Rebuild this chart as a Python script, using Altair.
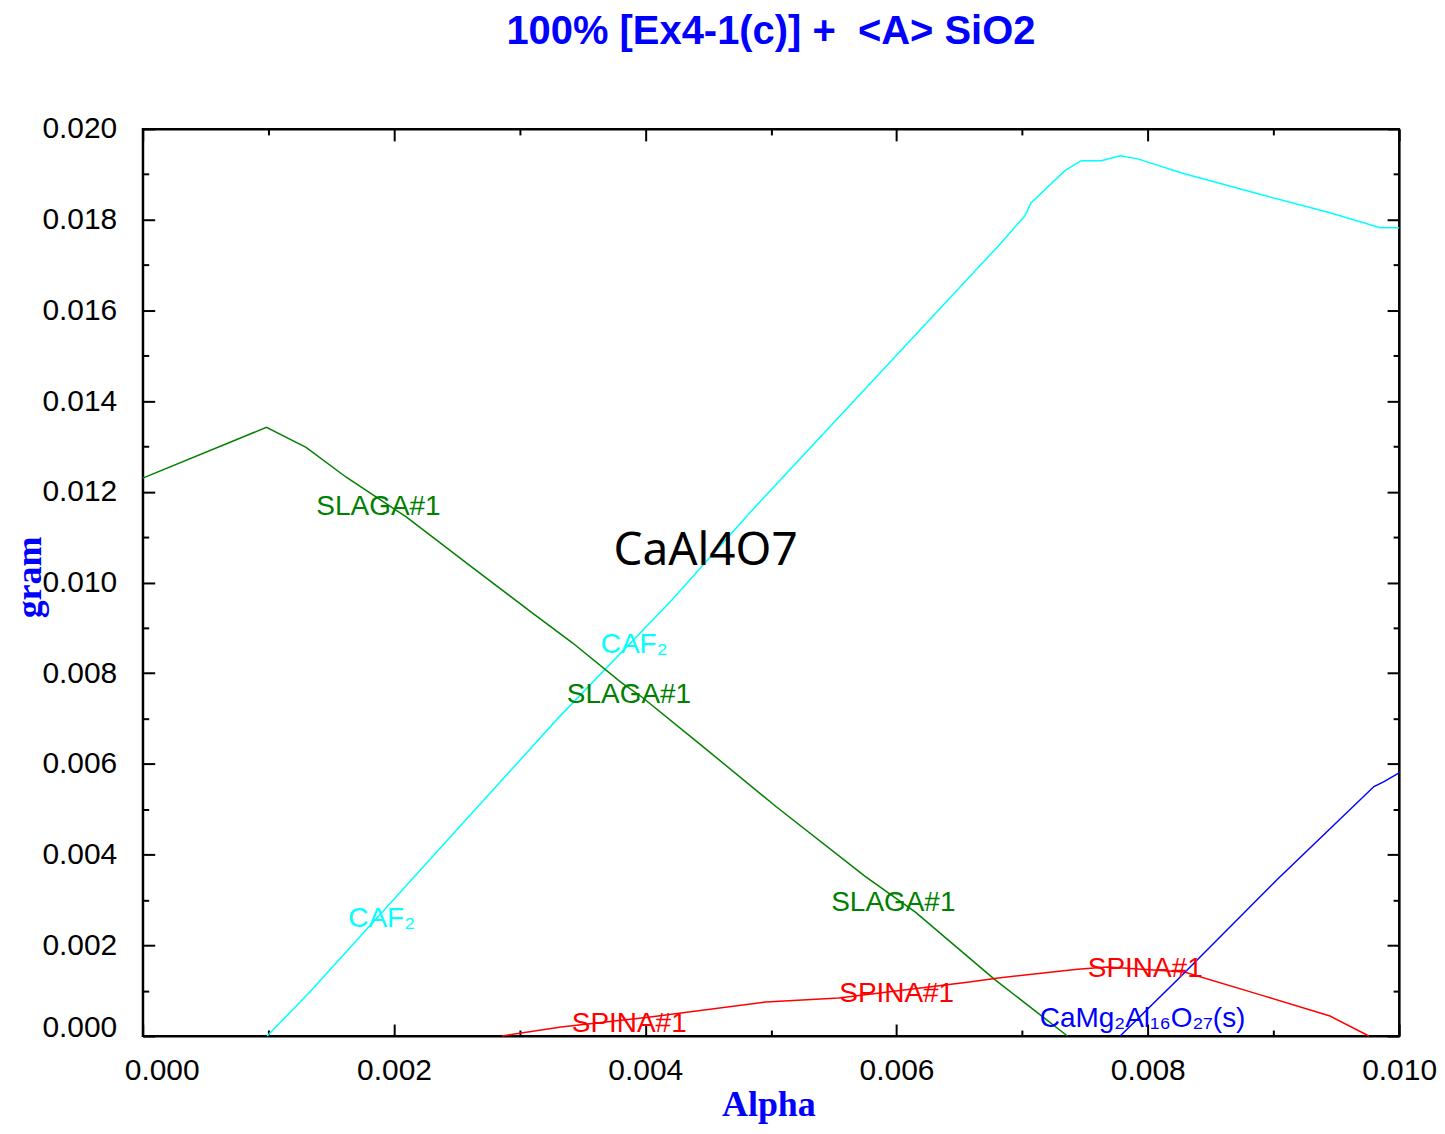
import altair as alt
import pandas as pd

# ---- data ----
caf2_x = [0.00099, 0.00133, 0.00331, 0.00421, 0.00485, 0.00681, 0.00702, 0.00707, 0.00734,
          0.00747, 0.00763, 0.00778, 0.00792, 0.00829, 0.00893, 0.00945, 0.00985, 0.01]
caf2_y = [0.0, 0.00097, 0.00702, 0.00961, 0.01159, 0.01742, 0.01808, 0.01837, 0.01908,
          0.0193, 0.0193, 0.01941, 0.01934, 0.01901, 0.01853, 0.01815, 0.01782, 0.01782]

slag_x = [0.0, 0.000985, 0.0013, 0.00162, 0.0021, 0.00262, 0.0031, 0.00342, 0.00381,
          0.00397, 0.00442, 0.00504, 0.00575, 0.00615, 0.00678, 0.00736]
slag_y = [0.0123, 0.01342, 0.01298, 0.01232, 0.01144, 0.01034, 0.00933, 0.00867, 0.00779,
          0.00748, 0.00647, 0.00506, 0.00352, 0.00273, 0.00125, 0.0]

spin_x = [0.00286, 0.00333, 0.00404, 0.00496, 0.00554, 0.00658, 0.00681, 0.00744, 0.00768,
          0.00829, 0.00893, 0.00945, 0.00976]
spin_y = [0.0, 0.0002, 0.00042, 0.00075, 0.00084, 0.00119, 0.00128, 0.00147, 0.00152,
          0.00141, 0.00088, 0.00044, 0.0]

camg_x = [0.00778, 0.00824, 0.00903, 0.0098, 0.00988, 0.01]
camg_y = [0.0, 0.00125, 0.00345, 0.0055, 0.00561, 0.0058]

series_names = ["CAF2", "SLAGA#1", "SPINA#1", "CaMg2Al16O27(s)"]
series_colors = ["#00FFFF", "#008000", "#FF0000", "#0000FF"]

lab_text = ["SLAGA#1", "SLAGA#1", "SLAGA#1", "CAF\u2082", "CAF\u2082",
            "SPINA#1", "SPINA#1", "SPINA#1", "CaMg\u2082Al\u2081\u2086O\u2082\u2087(s)"]
lab_series = ["SLAGA#1", "SLAGA#1", "SLAGA#1", "CAF2", "CAF2",
              "SPINA#1", "SPINA#1", "SPINA#1", "CaMg2Al16O27(s)"]
lab_x = [0.001382, 0.003376, 0.00548, 0.003646, 0.001636, 0.003415, 0.005544, 0.007522, 0.00714]
lab_y = [0.011485, 0.00735, 0.00275, 0.00845, 0.0024, 0.000088, 0.000748, 0.0013, 0.0002]

note_text = ["CaAl4O7"]
note_x = [0.00448]
note_y = [0.010385]

title_text = "100% [Ex4-1(c)] + \u00a0<A> SiO2"
x_title = "Alpha"
y_title = "gram"

x_major = [0.0, 0.002, 0.004, 0.006, 0.008, 0.010]
x_minor = [0.001, 0.003, 0.005, 0.007, 0.009]
y_major = [0.0, 0.002, 0.004, 0.006, 0.008, 0.010, 0.012, 0.014, 0.016, 0.018, 0.020]
y_minor = [0.001, 0.003, 0.005, 0.007, 0.009, 0.011, 0.013, 0.015, 0.017, 0.019]

# ---- tables ----
def series_df(xs, ys, name):
    return pd.DataFrame({"x": xs, "y": ys, "series": name})

df_caf2 = series_df(caf2_x, caf2_y, "CAF2")
df_slag = series_df(slag_x, slag_y, "SLAGA#1")
df_spin = series_df(spin_x, spin_y, "SPINA#1")
df_camg = series_df(camg_x, camg_y, "CaMg2Al16O27(s)")
df_lab = pd.DataFrame({"x": lab_x, "y": lab_y, "text": lab_text, "series": lab_series})
df_note = pd.DataFrame({"x": note_x, "y": note_y, "text": note_text})

xscale = alt.Scale(domain=[0, 0.01], nice=False, zero=False)
yscale = alt.Scale(domain=[0, 0.02], nice=False, zero=False)
cscale = alt.Scale(domain=series_names, range=series_colors)

W, H = 1259, 909

# ---- axes ----
x_label_axis = alt.Axis(
    orient="bottom", values=x_major, format=".3f", grid=False, ticks=False,
    domain=True, domainColor="black", domainWidth=2,
    labelFont="Liberation Sans", labelFontSize=30, labelColor="black", labelPadding=20,
    labelFlush=False,
    labelOffset={"condition": {"test": "datum.value === 0", "value": 19}, "value": 0},
    title=x_title, titleFont="Liberation Serif", titleFontWeight="bold", titleFontSize=36,
    titleColor="#0000FF", titleX=627, titleY=80, titleBaseline="alphabetic", titleAlign="center",
)
y_label_axis = alt.Axis(
    orient="left", values=y_major, format=".3f", grid=False, ticks=False,
    domain=True, domainColor="black", domainWidth=2,
    labelFont="Liberation Sans", labelFontSize=30, labelColor="black", labelPadding=26,
    labelFlush=False,
    labelOffset={"condition": {"test": "datum.value === 0", "value": -9}, "value": 0},
    title=y_title, titleFont="Liberation Serif", titleFontWeight="bold", titleFontSize=36,
    titleColor="#0000FF", titleX=-102, titleY=449, titleAngle=270, titleBaseline="alphabetic",
    titleAlign="center",
)


def tick_axis(orient, values, size, **kw):
    params = dict(orient=orient, values=values, labels=False, domain=False, grid=False,
                  ticks=True, tickSize=size, tickWidth=2, tickColor="black",
                  offset=-size, title=None)
    params.update(kw)
    return alt.Axis(**params)


def frame_axis(orient):
    return alt.Axis(orient=orient, labels=False, ticks=False, grid=False, domain=True,
                    domainColor="black", domainWidth=2, title=None)


# top major-tick axis also carries the chart heading as its title
x_top_major = tick_axis(
    "top", x_major, 12,
    title=title_text, titleFont="Liberation Sans", titleFontWeight="bold", titleFontSize=40,
    titleColor="#0000FF", titleX=629, titleY=-98, titleBaseline="alphabetic", titleAlign="center",
)


def line_layer(df, xaxis, yaxis):
    return alt.Chart(df).mark_line(strokeWidth=1.5).encode(
        x=alt.X("x:Q", scale=xscale, axis=xaxis),
        y=alt.Y("y:Q", scale=yscale, axis=yaxis),
        color=alt.Color("series:N", scale=cscale, legend=None),
    )


l1 = line_layer(df_caf2, x_label_axis, y_label_axis)
l2 = line_layer(df_slag, tick_axis("bottom", x_major, 12), tick_axis("left", y_major, 12))
l3 = line_layer(df_spin, tick_axis("bottom", x_minor, 6), tick_axis("left", y_minor, 6))
l4 = line_layer(df_camg, x_top_major, tick_axis("right", y_major, 12))

labels = alt.Chart(df_lab).mark_text(
    font="Liberation Sans", fontSize=28, align="left", baseline="alphabetic"
).encode(
    x=alt.X("x:Q", scale=xscale, axis=tick_axis("top", x_minor, 6)),
    y=alt.Y("y:Q", scale=yscale, axis=tick_axis("right", y_minor, 6)),
    text="text:N",
    color=alt.Color("series:N", scale=cscale, legend=None),
)

note = alt.Chart(df_note).mark_text(
    font="Noto Sans", fontSize=46, align="center", baseline="alphabetic", color="black"
).encode(
    x=alt.X("x:Q", scale=xscale, axis=frame_axis("top")),
    y=alt.Y("y:Q", scale=yscale, axis=frame_axis("right")),
    text="text:N",
)

chart = alt.layer(l1, l2, l3, l4, labels, note).resolve_axis(
    x="independent", y="independent"
).properties(
    width=W, height=H,
    background="white",
    autosize=alt.AutoSizeParams(type="none"),
    padding={"left": 135, "top": 120, "right": 38, "bottom": 88},
).configure_view(stroke="#000000", strokeWidth=2, strokeOpacity=1)

chart.save("out.html", embed_options={"renderer": "svg", "actions": False})
